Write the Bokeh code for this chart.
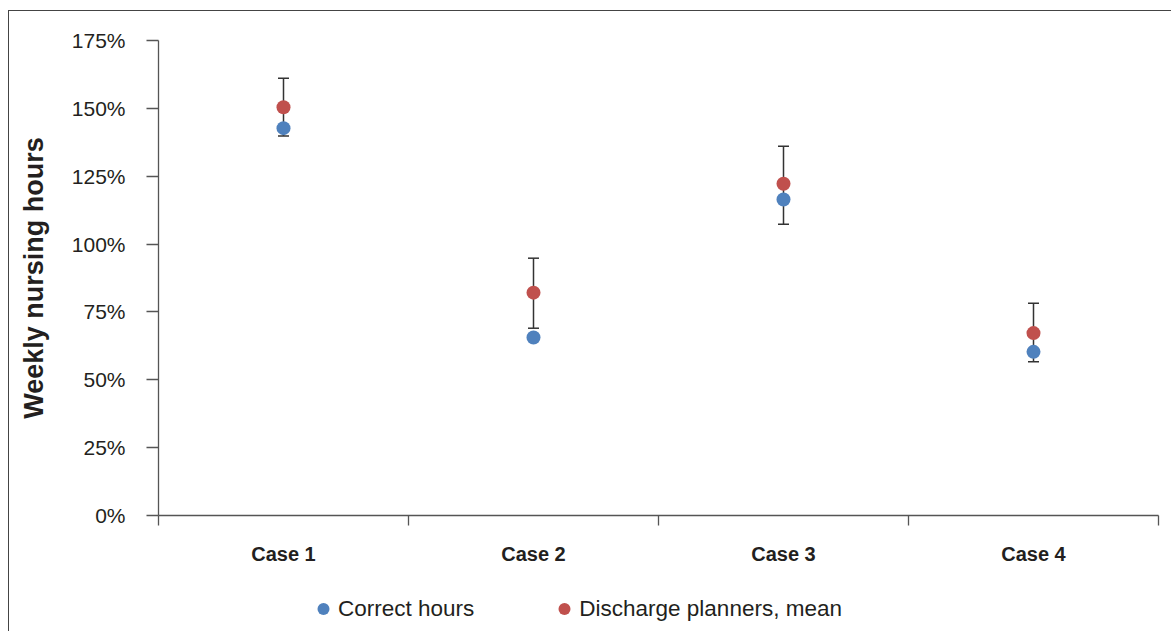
from bokeh.plotting import figure
from bokeh.layouts import column
from bokeh.models import (ColumnDataSource, FixedTicker, LinearAxis, Whisker, TeeHead,
                          Legend, LegendItem, Range1d)
from bokeh.embed import file_html
from bokeh.resources import INLINE

# ---- data ----
cases = ["Case 1", "Case 2", "Case 3", "Case 4"]
correct_hours = [1.427, 0.656, 1.164, 0.603]
planners_mean = [1.504, 0.821, 1.222, 0.672]
err_upper = [1.611, 0.948, 1.360, 0.782]
err_lower = [1.398, 0.690, 1.073, 0.566]
y_ticks = [0, 0.25, 0.5, 0.75, 1.0, 1.25, 1.5, 1.75]
y_tick_labels = ["0%", "25%", "50%", "75%", "100%", "125%", "150%", "175%"]
series_names = ["Correct hours", "Discharge planners, mean"]
series_colors = ["#4F81BD", "#C0504D"]

xpos = [i + 0.5 for i in range(len(cases))]
src = ColumnDataSource(dict(x=xpos, correct=correct_hours, mean=planners_mean,
                            upper=err_upper, lower=err_lower))

FONT = "Liberation Sans"
TXT = "#231F20"
AX = "#555555"
W = 1162

p = figure(width=W, height=564, output_backend="svg", toolbar_location=None,
           x_range=Range1d(0, 4), y_range=Range1d(0, 1.75),
           min_border_left=149, min_border_right=13, min_border_top=29, min_border_bottom=60,
           x_axis_location=None, y_axis_location=None)
p.grid.visible = False
p.outline_line_color = None
p.background_fill_color = "white"
p.border_fill_color = "white"

# y axis
yax = LinearAxis(ticker=FixedTicker(ticks=y_ticks),
                 major_label_overrides={t: l for t, l in zip(y_ticks, y_tick_labels)})
yax.axis_label = "Weekly nursing hours"
yax.axis_label_text_font = FONT
yax.axis_label_text_font_style = "bold"
yax.axis_label_text_font_size = "27px"
yax.axis_label_text_color = TXT
yax.axis_label_standoff = 20
yax.major_label_text_font = FONT
yax.major_label_text_font_size = "21px"
yax.major_label_text_color = TXT
yax.major_label_standoff = 21
yax.major_tick_out = 12
yax.major_tick_in = 0
yax.minor_tick_line_color = None
yax.axis_line_color = AX
yax.major_tick_line_color = AX
yax.axis_line_width = 1.3
yax.major_tick_line_width = 1.3
p.add_layout(yax, "left")

# x axis: boundary ticks (no labels)
bounds = list(range(len(cases) + 1))
xax = LinearAxis(ticker=FixedTicker(ticks=bounds),
                 major_label_overrides={b: "" for b in bounds})
xax.major_label_text_font_size = "0px"
xax.major_label_standoff = 0
xax.major_tick_out = 10
xax.major_tick_in = 0
xax.minor_tick_line_color = None
xax.axis_line_color = AX
xax.major_tick_line_color = AX
xax.axis_line_width = 1.3
xax.major_tick_line_width = 1.3
p.add_layout(xax, "below")

# x axis: category labels
xlab = LinearAxis(ticker=FixedTicker(ticks=xpos),
                  major_label_overrides={x: c for x, c in zip(xpos, cases)})
xlab.axis_line_color = None
xlab.major_tick_line_color = None
xlab.minor_tick_line_color = None
xlab.major_tick_out = 0
xlab.major_tick_in = 0
xlab.major_label_standoff = 17
xlab.major_label_text_font = FONT
xlab.major_label_text_font_style = "bold"
xlab.major_label_text_font_size = "20px"
xlab.major_label_text_color = TXT
p.add_layout(xlab, "below")

# error bars (behind markers)
wh = Whisker(source=src, base="x", upper="upper", lower="lower", level="underlay",
             line_color="#333333", line_width=1.5,
             upper_head=TeeHead(size=11, line_color="#333333", line_width=1.5),
             lower_head=TeeHead(size=11, line_color="#333333", line_width=1.5))
p.add_layout(wh)

p.scatter("x", "correct", source=src, size=14, fill_color=series_colors[0], line_color=None)
p.scatter("x", "mean", source=src, size=14, fill_color=series_colors[1], line_color=None)

# legend strip (separate small figure so the legend is not clipped)
lf = figure(width=W, height=56, output_backend="svg", toolbar_location=None,
            x_range=Range1d(0, 1), y_range=Range1d(0, 1),
            min_border_left=0, min_border_right=0, min_border_top=0, min_border_bottom=0,
            x_axis_location=None, y_axis_location=None)
lf.grid.visible = False
lf.outline_line_color = None
lf.background_fill_color = "white"
lf.border_fill_color = "white"
items = []
for name, col in zip(series_names, series_colors):
    # legend-only renderer: a single undefined (NaN) point, never drawn in the frame
    r = lf.scatter(x=[float("nan")], y=[float("nan")], size=14,
                   fill_color=col, line_color=None)
    items.append(LegendItem(label=name, renderers=[r]))
legend = Legend(items=items, orientation="horizontal", location=(150, 6),
                glyph_width=30, glyph_height=33, label_standoff=0, spacing=75,
                padding=0, margin=0, border_line_color=None, background_fill_alpha=0,
                label_text_font=FONT, label_text_font_size="22.5px", label_text_color=TXT)
lf.add_layout(legend, "center")

layout = column(p, lf, spacing=0,
                styles={"border-left": "1px solid #444444", "border-top": "1px solid #444444"},
                margin=(10, 0, 0, 8))

open("out.html", "w").write(file_html(layout, INLINE))
